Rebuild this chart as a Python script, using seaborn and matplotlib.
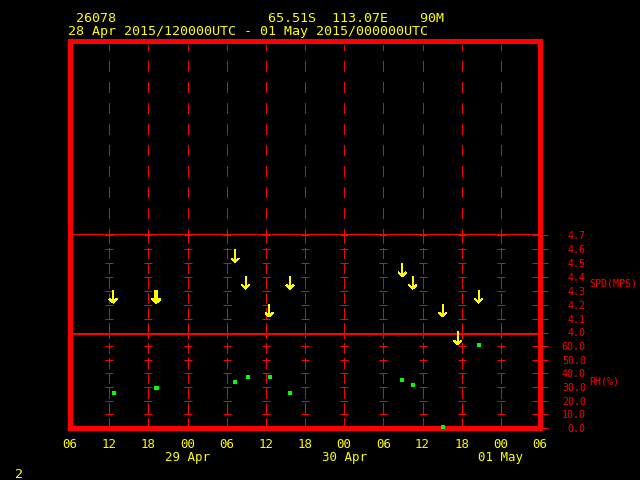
import numpy as np
import pandas as pd
import matplotlib
matplotlib.use("Agg")
import matplotlib.pyplot as plt
from matplotlib.path import Path
import seaborn as sns

# data: hours since 28 Apr 2015 00UTC
spd_hours = [12.6, 19.1, 19.3, 31.3, 32.9, 36.5, 39.7, 56.9, 58.5, 63.1, 65.4, 68.6]
spd_vals = [4.26, 4.26, 4.26, 4.55, 4.36, 4.16, 4.36, 4.45, 4.36, 4.16, 3.96, 4.26]
rh_hours = [12.7, 19.1, 19.3, 31.3, 33.2, 36.6, 39.7, 56.9, 58.5, 63.2, 68.7]
rh_vals = [25.9, 29.3, 29.3, 33.8, 37.1, 37.4, 25.9, 35.0, 31.7, 1.0, 60.7]

tick_hours = list(range(6, 79, 6))
tick_labels = ["06", "12", "18", "00\n29 Apr", "06", "12", "18", "00\n30 Apr",
               "06", "12", "18", "00\n01 May", "06"]
spd_ticks = [4.0, 4.1, 4.2, 4.3, 4.4, 4.5, 4.6, 4.7]
rh_ticks = [0, 10, 20, 30, 40, 50, 60]

RED = "#ff0000"
YEL = "#ffff00"
GRN = "#00ff00"
MONO = "DejaVu Sans Mono"
THIN = 0.75   # about one pixel
THICK = 2.2   # outer frame

sns.set_style("dark")
plt.rcParams["font.family"] = [MONO]
plt.rcParams["lines.antialiased"] = False
plt.rcParams["patch.antialiased"] = False

fig = plt.figure(figsize=(6.4, 4.8), dpi=100, facecolor="black")
L, W = 70 / 640, 470 / 640
ax_top = fig.add_axes([L, 1 - 235 / 480, W, 194 / 480])
ax_rh = fig.add_axes([L, 1 - 428 / 480, W, 95.5 / 480])
ax_spd = fig.add_axes([L, 1 - 332.5 / 480, W, 97.5 / 480])
ax_spd.set_zorder(3)

for ax in (ax_top, ax_spd, ax_rh):
    ax.set_facecolor("black")
    ax.grid(False)
    ax.set_xlim(6, 78)
    for s in ax.spines.values():
        s.set_color(RED)
        s.set_visible(True)
        s.set_antialiased(False)
    ax.spines["left"].set_linewidth(THICK)
    ax.spines["right"].set_linewidth(THICK)
    ax.tick_params(axis="x", bottom=False, labelbottom=False)

ax_top.spines["top"].set_linewidth(THICK)
ax_top.spines["bottom"].set_linewidth(THIN)
ax_spd.spines["top"].set_visible(False)
ax_spd.spines["bottom"].set_visible(False)
ax_rh.spines["top"].set_linewidth(THIN)
ax_rh.spines["bottom"].set_linewidth(THICK)

# top empty panel
ax_top.set_ylim(0, 1)
ax_top.set_yticks([])
for h in tick_hours[1:-1]:
    ax_top.axvline(h, ymin=0, ymax=0.98, color=RED, lw=THIN, ls=(4, (10, 10)))

# speed and rh panels: grid with crosses
ax_spd.set_ylim(4.0, 4.7)
ax_rh.set_ylim(0, 70)
for ax, ticks in ((ax_spd, spd_ticks), (ax_rh, rh_ticks)):
    for h in tick_hours[1:-1]:
        ax.axvline(h, color=RED, lw=THIN, ls=(0, (10, 4)))
    hh, yy = np.meshgrid(tick_hours[1:-1], ticks)
    ax.plot(hh.ravel(), yy.ravel(), ls="none", marker="_", ms=5.5, mew=THIN,
            color=RED, clip_on=False)
    ax.yaxis.set_ticks_position("right")
    ax.set_yticks(ticks)
    ax.tick_params(axis="y", direction="inout", length=12, width=THIN,
                   colors=RED, pad=27, labelsize=7.2)

ax_spd.set_yticklabels([f"{v:.1f}" for v in spd_ticks])
ax_rh.set_yticklabels([f"{v:.1f}" for v in rh_ticks])
for ax in (ax_spd, ax_rh):
    for lab in ax.get_yticklabels():
        lab.set_ha("right")
        lab.set_family(MONO)

# wind arrows (pointing down)
arrow = Path([(0, 1), (0, -1), (-0.6, -0.4), (0, -1), (0.6, -0.4)],
             [Path.MOVETO, Path.LINETO, Path.MOVETO, Path.LINETO, Path.LINETO])
spd_df = pd.DataFrame({"hour": spd_hours, "spd": spd_vals})
sns.scatterplot(data=spd_df, x="hour", y="spd", ax=ax_spd, marker=arrow, s=80,
                color=YEL, facecolor="none", edgecolor=YEL, linewidth=THIN,
                clip_on=False, zorder=5)

rh_df = pd.DataFrame({"hour": rh_hours, "rh": rh_vals})
sns.scatterplot(data=rh_df, x="hour", y="rh", ax=ax_rh, marker="s", s=9,
                color=GRN, linewidth=0, clip_on=False, zorder=5)
for ax in (ax_spd, ax_rh):
    ax.set_xlabel("")
    ax.set_ylabel("")
    ax.set_xlim(6, 78)

# time axis labels
ax_rh.set_xticks(tick_hours)
ax_rh.set_xticklabels(tick_labels)
ax_rh.tick_params(axis="x", bottom=False, labelbottom=True, colors=YEL,
                  labelsize=9, pad=4)
for lab in ax_rh.get_xticklabels():
    lab.set_linespacing(1.0)
    lab.set_va("top")

# right side titles
fig.text(589 / 640, 1 - 283 / 480, "SPD(MPS)", color=RED, fontsize=7.2,
         ha="left", va="center", family=MONO)
fig.text(589 / 640, 1 - 381 / 480, "RH(%)", color=RED, fontsize=7.2,
         ha="left", va="center", family=MONO)

# header
fig.text(76 / 640, 1 - 18 / 480, "26078", color=YEL, fontsize=9.6,
         ha="left", va="center", family=MONO)
fig.text(268 / 640, 1 - 18 / 480, "65.51S  113.07E    90M", color=YEL,
         fontsize=9.6, ha="left", va="center", family=MONO)
fig.text(68 / 640, 1 - 32 / 480, "28 Apr 2015/120000UTC - 01 May 2015/000000UTC",
         color=YEL, fontsize=9.6, ha="left", va="center", family=MONO)
fig.text(15 / 640, 1 - 474 / 480, "2", color=YEL, fontsize=9.6,
         ha="left", va="center", family=MONO)

fig.savefig("out.png", dpi=100, facecolor="black")
